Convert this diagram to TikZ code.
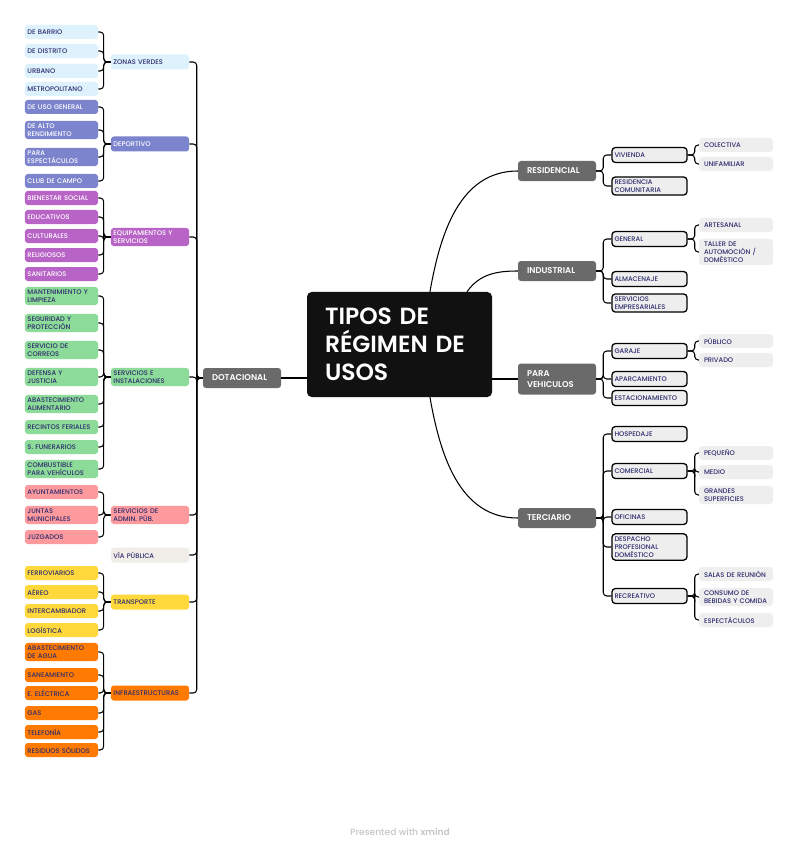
\documentclass[tikz,border=0pt]{standalone}
\usepackage{fontspec}
\setmainfont{Poppins}[UprightFont={* Medium}, BoldFont={* SemiBold}]
\usetikzlibrary{positioning}
\definecolor{InkNavy}{HTML}{2E2C6E}
\definecolor{MapBlack}{HTML}{111111}
\definecolor{MapGray}{HTML}{6A6A6A}
\definecolor{ZonaBlue}{HTML}{DDF2FC}
\definecolor{DeporteBlue}{HTML}{7B84CC}
\definecolor{EquipPurple}{HTML}{B864C6}
\definecolor{ServGreen}{HTML}{8CDB98}
\definecolor{AdminPink}{HTML}{FC9A9E}
\definecolor{ViaBeige}{HTML}{F1EEEA}
\definecolor{TranspYellow}{HTML}{FFD93B}
\definecolor{InfraOrange}{HTML}{FF7A00}
\definecolor{SubGray}{HTML}{EEEEEE}
\tikzset{
  mm leaf/.style={
    rounded corners=2.5pt,
    align=left,
    text=InkNavy,
    font=\fontsize{5.7}{7}\selectfont,
    text width=2.04cm,
    minimum height=0.42cm,
    inner xsep=2.2pt,
    inner ysep=2.2pt
  },
  mm sub/.style={mm leaf, text width=2.19cm, minimum height=0.45cm},
  mm main/.style={
    rounded corners=2.5pt,
    align=left,
    fill=MapGray,
    text=white,
    font=\fontsize{7.2}{8.8}\selectfont\bfseries,
    text width=1.8cm,
    minimum height=0.6cm,
    inner xsep=0.27cm
  },
  mm root/.style={
    rounded corners=4pt,
    align=left,
    fill=MapBlack,
    text=white,
    font=\fontsize{20}{23.8}\selectfont\bfseries,
    text width=4.47cm,
    minimum height=3.15cm,
    inner xsep=0.54cm
  },
  mm box/.style={mm leaf, fill=SubGray, draw=black, line width=1.1pt,
    rounded corners=3pt, text width=2.1cm, minimum height=0.45cm},
  mm tip/.style={mm leaf, fill=SubGray, rounded corners=3pt,
    text width=1.92cm, inner xsep=0.15cm},
  zona col/.style={fill=ZonaBlue},
  deporte col/.style={fill=DeporteBlue, text=white},
  equip col/.style={fill=EquipPurple, text=white},
  serv col/.style={fill=ServGreen},
  admin col/.style={fill=AdminPink},
  via col/.style={fill=ViaBeige},
  transp col/.style={fill=TranspYellow},
  infra col/.style={fill=InfraOrange},
  mm link/.style={draw=black, line width=0.9pt, rounded corners=3pt}
}

\begin{document}
\begin{tikzpicture}[x=0.03cm, y=-0.03cm]
  \fill[white] (0,0) rectangle (800,848);
  \useasboundingbox (0,0) rectangle (800,848);

  % centre and first level
  \node[mm root] (root) at (399.5,344.5) {TIPOS DE\\RÉGIMEN DE\\USOS};
  \node[mm main] (dot) at (242,378) {DOTACIONAL};
  \node[mm main] (res) at (557,171) {RESIDENCIAL};
  \node[mm main] (ind) at (557,271) {INDUSTRIAL};
  \node[mm main,minimum height=0.93cm] (veh) at (557,379) {PARA\\VEHICULOS};
  \node[mm main] (ter) at (557,518) {TERCIARIO};

  % dotacional, second level
  \node[mm sub,zona col] (zv) at (150,62) {ZONAS VERDES};
  \node[mm sub,deporte col] (dep) at (150,144) {DEPORTIVO};
  \node[mm sub,equip col] (eq) at (150,237) {EQUIPAMIENTOS Y\\SERVICIOS};
  \node[mm sub,serv col] (si) at (150,377) {SERVICIOS E\\INSTALACIONES};
  \node[mm sub,admin col] (adm) at (150,515) {SERVICIOS DE\\ADMIN. PÚB.};
  \node[mm sub,via col] (via) at (150,555) {VÍA PÚBLICA};
  \node[mm sub,transp col] (tra) at (150,602) {TRANSPORTE};
  \node[mm sub,infra col] (inf) at (150,693) {INFRAESTRUCTURAS};

  % dotacional, leaves
  \node[mm leaf,zona col] (zv1) at (61.5,32) {DE BARRIO};
  \node[mm leaf,zona col] (zv2) at (61.5,51) {DE DISTRITO};
  \node[mm leaf,zona col] (zv3) at (61.5,71) {URBANO};
  \node[mm leaf,zona col] (zv4) at (61.5,89) {METROPOLITANO};
  \node[mm leaf,deporte col] (dep1) at (61.5,107) {DE USO GENERAL};
  \node[mm leaf,deporte col] (dep2) at (61.5,130) {DE ALTO\\RENDIMIENTO};
  \node[mm leaf,deporte col] (dep3) at (61.5,157) {PARA\\ESPECTÁCULOS};
  \node[mm leaf,deporte col] (dep4) at (61.5,181) {CLUB DE CAMPO};
  \node[mm leaf,equip col] (eq1) at (61.5,198) {BIENESTAR SOCIAL};
  \node[mm leaf,equip col] (eq2) at (61.5,217) {EDUCATIVOS};
  \node[mm leaf,equip col] (eq3) at (61.5,236) {CULTURALES};
  \node[mm leaf,equip col] (eq4) at (61.5,255) {RELIGIOSOS};
  \node[mm leaf,equip col] (eq5) at (61.5,274) {SANITARIOS};
  \node[mm leaf,serv col] (si1) at (61.5,296) {MANTENIMIENTO Y\\LIMPIEZA};
  \node[mm leaf,serv col] (si2) at (61.5,323) {SEGURIDAD Y\\PROTECCIÓN};
  \node[mm leaf,serv col] (si3) at (61.5,350) {SERVICIO DE\\CORREOS};
  \node[mm leaf,serv col] (si4) at (61.5,377) {DEFENSA Y\\JUSTICIA};
  \node[mm leaf,serv col] (si5) at (61.5,404) {ABASTECIMIENTO\\ALIMENTARIO};
  \node[mm leaf,serv col] (si6) at (61.5,427) {RECINTOS FERIALES};
  \node[mm leaf,serv col] (si7) at (61.5,447) {S. FUNERARIOS};
  \node[mm leaf,serv col] (si8) at (61.5,469) {COMBUSTIBLE\\PARA VEHÍCULOS};
  \node[mm leaf,admin col] (adm1) at (61.5,492) {AYUNTAMIENTOS};
  \node[mm leaf,admin col] (adm2) at (61.5,515) {JUNTAS\\MUNICIPALES};
  \node[mm leaf,admin col] (adm3) at (61.5,537) {JUZGADOS};
  \node[mm leaf,transp col] (tra1) at (61.5,573) {FERROVIARIOS};
  \node[mm leaf,transp col] (tra2) at (61.5,592) {AÉREO};
  \node[mm leaf,transp col] (tra3) at (61.5,611) {INTERCAMBIADOR};
  \node[mm leaf,transp col] (tra4) at (61.5,630) {LOGÍSTICA};
  \node[mm leaf,infra col] (inf1) at (61.5,652) {ABASTECIMIENTO\\DE AGUA};
  \node[mm leaf,infra col] (inf2) at (61.5,675) {SANEAMIENTO};
  \node[mm leaf,infra col] (inf3) at (61.5,693) {E. ELÉCTRICA};
  \node[mm leaf,infra col] (inf4) at (61.5,713) {GAS};
  \node[mm leaf,infra col] (inf5) at (61.5,732) {TELEFONÍA};
  \node[mm leaf,infra col] (inf6) at (61.5,750) {RESIDUOS SÓLIDOS};

  % right side, second level
  \node[mm box] (viv) at (649.5,155) {VIVIENDA};
  \node[mm box] (rco) at (649.5,186) {RESIDENCIA\\COMUNITARIA};
  \node[mm box] (gen) at (649.5,239) {GENERAL};
  \node[mm box] (alm) at (649.5,279) {ALMACENAJE};
  \node[mm box] (sem) at (649.5,303) {SERVICIOS\\EMPRESARIALES};
  \node[mm box] (gar) at (649.5,351) {GARAJE};
  \node[mm box] (apa) at (649.5,379) {APARCAMIENTO};
  \node[mm box] (est) at (649.5,398) {ESTACIONAMIENTO};
  \node[mm box] (hos) at (649.5,434) {HOSPEDAJE};
  \node[mm box] (com) at (649.5,471) {COMERCIAL};
  \node[mm box] (ofi) at (649.5,517) {OFICINAS};
  \node[mm box] (des) at (649.5,547) {DESPACHO\\PROFESIONAL\\DOMÉSTICO};
  \node[mm box] (rec) at (649.5,596) {RECREATIVO};

  % right side, third level
  \node[mm tip] (col) at (736,145) {COLECTIVA};
  \node[mm tip] (uni) at (736,164) {UNIFAMILIAR};
  \node[mm tip] (art) at (736,225) {ARTESANAL};
  \node[mm tip] (tal) at (736,252) {TALLER DE\\AUTOMOCIÓN /\\DOMÉSTICO};
  \node[mm tip] (pub) at (736,341) {PÚBLICO};
  \node[mm tip] (pri) at (736,360) {PRIVADO};
  \node[mm tip] (peq) at (736,453) {PEQUEÑO};
  \node[mm tip] (med) at (736,472) {MEDIO};
  \node[mm tip] (gra) at (736,495) {GRANDES\\SUPERFICIES};
  \node[mm tip] (sal) at (736,574) {SALAS DE REUNIÓN};
  \node[mm tip] (con) at (736,597) {CONSUMO DE\\BEBIDAS Y COMIDA};
  \node[mm tip] (esp) at (736,620) {ESPECTÁCULOS};

  \node[text=gray!45, font=\fontsize{7.8}{9}\selectfont] (credit) at (400,832)
    {Presented with \textbf{xmind}};

  % connectors from the centre
  \draw[mm link] (dot.east) -- (dot.east -| root.west);
  \draw[mm link] (root.60) to[out=80,in=180] (res.west);
  \draw[mm link] (root.38) to[out=55,in=180] (ind.west);
  \draw[mm link] (root.east |- veh.west) -- (veh.west);
  \draw[mm link] (root.-60) to[out=-80,in=180] (ter.west);

  % left brackets
  \foreach \c in {zv,dep,eq,si,adm,via,tra,inf}
    \draw[mm link] (\c.east) -| ([xshift=-0.18cm]dot.west) -- (dot.west);
  \foreach \c in {zv1,zv2,zv3,zv4}
    \draw[mm link] (\c.east) -| ([xshift=-0.21cm]zv.west) -- (zv.west);
  \foreach \c in {dep1,dep2,dep3,dep4}
    \draw[mm link] (\c.east) -| ([xshift=-0.21cm]dep.west) -- (dep.west);
  \foreach \c in {eq1,eq2,eq3,eq4,eq5}
    \draw[mm link] (\c.east) -| ([xshift=-0.21cm]eq.west) -- (eq.west);
  \foreach \c in {si1,si2,si3,si4,si5,si6,si7,si8}
    \draw[mm link] (\c.east) -| ([xshift=-0.21cm]si.west) -- (si.west);
  \foreach \c in {adm1,adm2,adm3}
    \draw[mm link] (\c.east) -| ([xshift=-0.21cm]adm.west) -- (adm.west);
  \foreach \c in {tra1,tra2,tra3,tra4}
    \draw[mm link] (\c.east) -| ([xshift=-0.21cm]tra.west) -- (tra.west);
  \foreach \c in {inf1,inf2,inf3,inf4,inf5,inf6}
    \draw[mm link] (\c.east) -| ([xshift=-0.21cm]inf.west) -- (inf.west);

  % right brackets
  \foreach \p/\c in {res/viv,res/rco,ind/gen,ind/alm,ind/sem,veh/gar,veh/apa,veh/est,
      ter/hos,ter/com,ter/ofi,ter/des,ter/rec,viv/col,viv/uni,gen/art,gen/tal,
      gar/pub,gar/pri,com/peq,com/med,com/gra,rec/sal,rec/con,rec/esp}
    \draw[mm link] (\p.east) -- ([xshift=0.21cm]\p.east) |- (\c.west);
\end{tikzpicture}
\end{document}
